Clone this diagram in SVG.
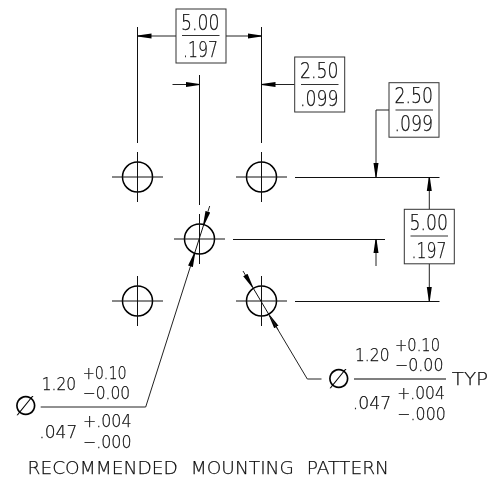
<svg xmlns="http://www.w3.org/2000/svg" width="497" height="482" viewBox="0 0 497 482">
<style>
text{font-family:"DejaVu Sans","Liberation Sans",sans-serif;font-weight:200;fill:#000;stroke:#222;stroke-width:.25px}
.t{filter:url(#g)}
.d{font-size:21px}
.s{font-size:18.500px}
.p{font-family:"DejaVu Sans",sans-serif;font-weight:200;font-size:27px;text-anchor:middle;stroke-width:0}
.l{fill:none;stroke:#111;stroke-width:1}
.h{fill:none;stroke:#000;stroke-width:1.500}
.x{stroke:#111;stroke-width:1;fill:none}
.b{fill:#fff;stroke:#333;stroke-width:1}
.f{stroke:#333;stroke-width:1}
.a{fill:none;stroke:#222;stroke-width:1;marker-end:url(#ah)}
</style>
<defs>
<filter id="g" x="-5%" y="-5%" width="110%" height="110%"><feOffset dx="0" dy="0"/></filter>
<marker id="ah" markerUnits="userSpaceOnUse" markerWidth="15" markerHeight="8" refX="14" refY="4" orient="auto"><path d="M0 1.500 L14 3.500 V4.500 L0 6.500 Z" fill="#000"/></marker>
<g id="hole"><circle r="15" class="h"/><path d="M-25.500 0H25.500M0-25V25" class="x"/></g>
</defs>
<g id="connectors">
<path class="l" d="M137.500 27V143M261.500 27V143M199.500 75V205"/>
<path class="l" d="M295 177.500H439.500M233 239.500H385M295 301.500H439.500"/>
<path class="a" d="M176 36H137.500"/>
<path class="a" d="M226 36H261.500"/>
<path class="a" d="M294.700 84.500H261.500"/>
<path class="a" d="M172.500 84.500H199.500"/>
<path class="a" d="M389 110H376V177"/>
<path class="a" d="M376 266V239"/>
<path class="a" d="M429.300 209.300V177"/>
<path class="a" d="M429.300 263.700V301"/>
<path class="l" d="M194.700 253L203.600 225"/>
<path class="a" d="M40.700 407H145.700L194.700 253"/>
<path class="a" d="M209.700 206L203.600 225"/>
<path class="l" d="M252.500 287L269.200 315"/>
<path class="a" d="M321.500 379H307.300L269.200 315"/>
<path class="a" d="M243 271L252.500 287"/>
<path class="a" d="M278 329.500L269.200 315" style="marker-end:none"/>
</g>
<g id="hole-1"><use href="#hole" x="137.500" y="177"/></g>
<g id="hole-2"><use href="#hole" x="261.500" y="177"/></g>
<g id="hole-3"><use href="#hole" x="199.500" y="239"/></g>
<g id="hole-4"><use href="#hole" x="137.500" y="301"/></g>
<g id="hole-5"><use href="#hole" x="261.500" y="301"/></g>
<g id="dim-5-top">
<rect class="b" x="176" y="9" width="50" height="54"/>
<g class="t"><text class="d" x="181" y="30" textLength="38.500" lengthAdjust="spacingAndGlyphs">5.00</text>
<text class="d" x="183" y="57" textLength="35" lengthAdjust="spacingAndGlyphs">.197</text></g>
<path class="f" d="M182 35.500H219.500"/>
</g>
<g id="dim-2-top">
<rect class="b" x="294.700" y="57" width="50" height="55"/>
<g class="t"><text class="d" x="300" y="77.500" textLength="38.500" lengthAdjust="spacingAndGlyphs">2.50</text>
<text class="d" x="300" y="105.500" textLength="38.500" lengthAdjust="spacingAndGlyphs">.099</text></g>
<path class="f" d="M301 84.500H338.500"/>
</g>
<g id="dim-2-right">
<rect class="b" x="389" y="82.700" width="50" height="54.500"/>
<g class="t"><text class="d" x="394.500" y="103" textLength="38.500" lengthAdjust="spacingAndGlyphs">2.50</text>
<text class="d" x="394.500" y="131" textLength="38.500" lengthAdjust="spacingAndGlyphs">.099</text></g>
<path class="f" d="M395.500 110H433"/>
</g>
<g id="dim-5-right">
<rect class="b" x="404.300" y="209.300" width="50" height="54.500"/>
<g class="t"><text class="d" x="409.500" y="230" textLength="38.500" lengthAdjust="spacingAndGlyphs">5.00</text>
<text class="d" x="411.500" y="257.500" textLength="35" lengthAdjust="spacingAndGlyphs">.197</text></g>
<path class="f" d="M410.500 236H448"/>
</g>
<g id="callout-left" class="t">
<text class="p" x="26" y="415">∅</text>
<text class="s" x="41.700" y="389.500" textLength="34.500" lengthAdjust="spacingAndGlyphs">1.20</text>
<text class="s" x="82.700" y="379" textLength="44" lengthAdjust="spacingAndGlyphs">+0.10</text>
<text class="s" x="82.700" y="399.300" textLength="47.500" lengthAdjust="spacingAndGlyphs">−0.00</text>
<text class="s" x="39.300" y="437.700" textLength="38" lengthAdjust="spacingAndGlyphs">.047</text>
<text class="s" x="83" y="426.700" textLength="48.500" lengthAdjust="spacingAndGlyphs">+.004</text>
<text class="s" x="83" y="448.300" textLength="48.500" lengthAdjust="spacingAndGlyphs">−.000</text>
</g>
<g id="callout-right" class="t">
<text class="p" x="339" y="388">∅</text>
<text class="s" x="355" y="361" textLength="34.500" lengthAdjust="spacingAndGlyphs">1.20</text>
<text class="s" x="395" y="350.700" textLength="45" lengthAdjust="spacingAndGlyphs">+0.10</text>
<text class="s" x="395" y="371" textLength="48.500" lengthAdjust="spacingAndGlyphs">−0.00</text>
<text class="s" x="352.700" y="409.300" textLength="38.500" lengthAdjust="spacingAndGlyphs">.047</text>
<text class="s" x="397.300" y="399.300" textLength="47.500" lengthAdjust="spacingAndGlyphs">+.004</text>
<text class="s" x="397.300" y="420" textLength="48.500" lengthAdjust="spacingAndGlyphs">−.000</text>
<text class="s" x="451.700" y="385.300" textLength="36.500" lengthAdjust="spacingAndGlyphs">TYP</text>
</g>
<path stroke="#555" stroke-width="1.500" d="M354 379H446"/>
<g class="t"><text id="title" class="s" x="27.500" y="474" textLength="361.500" lengthAdjust="spacingAndGlyphs" style="word-spacing:7px">RECOMMENDED MOUNTING PATTERN</text></g>
</svg>
